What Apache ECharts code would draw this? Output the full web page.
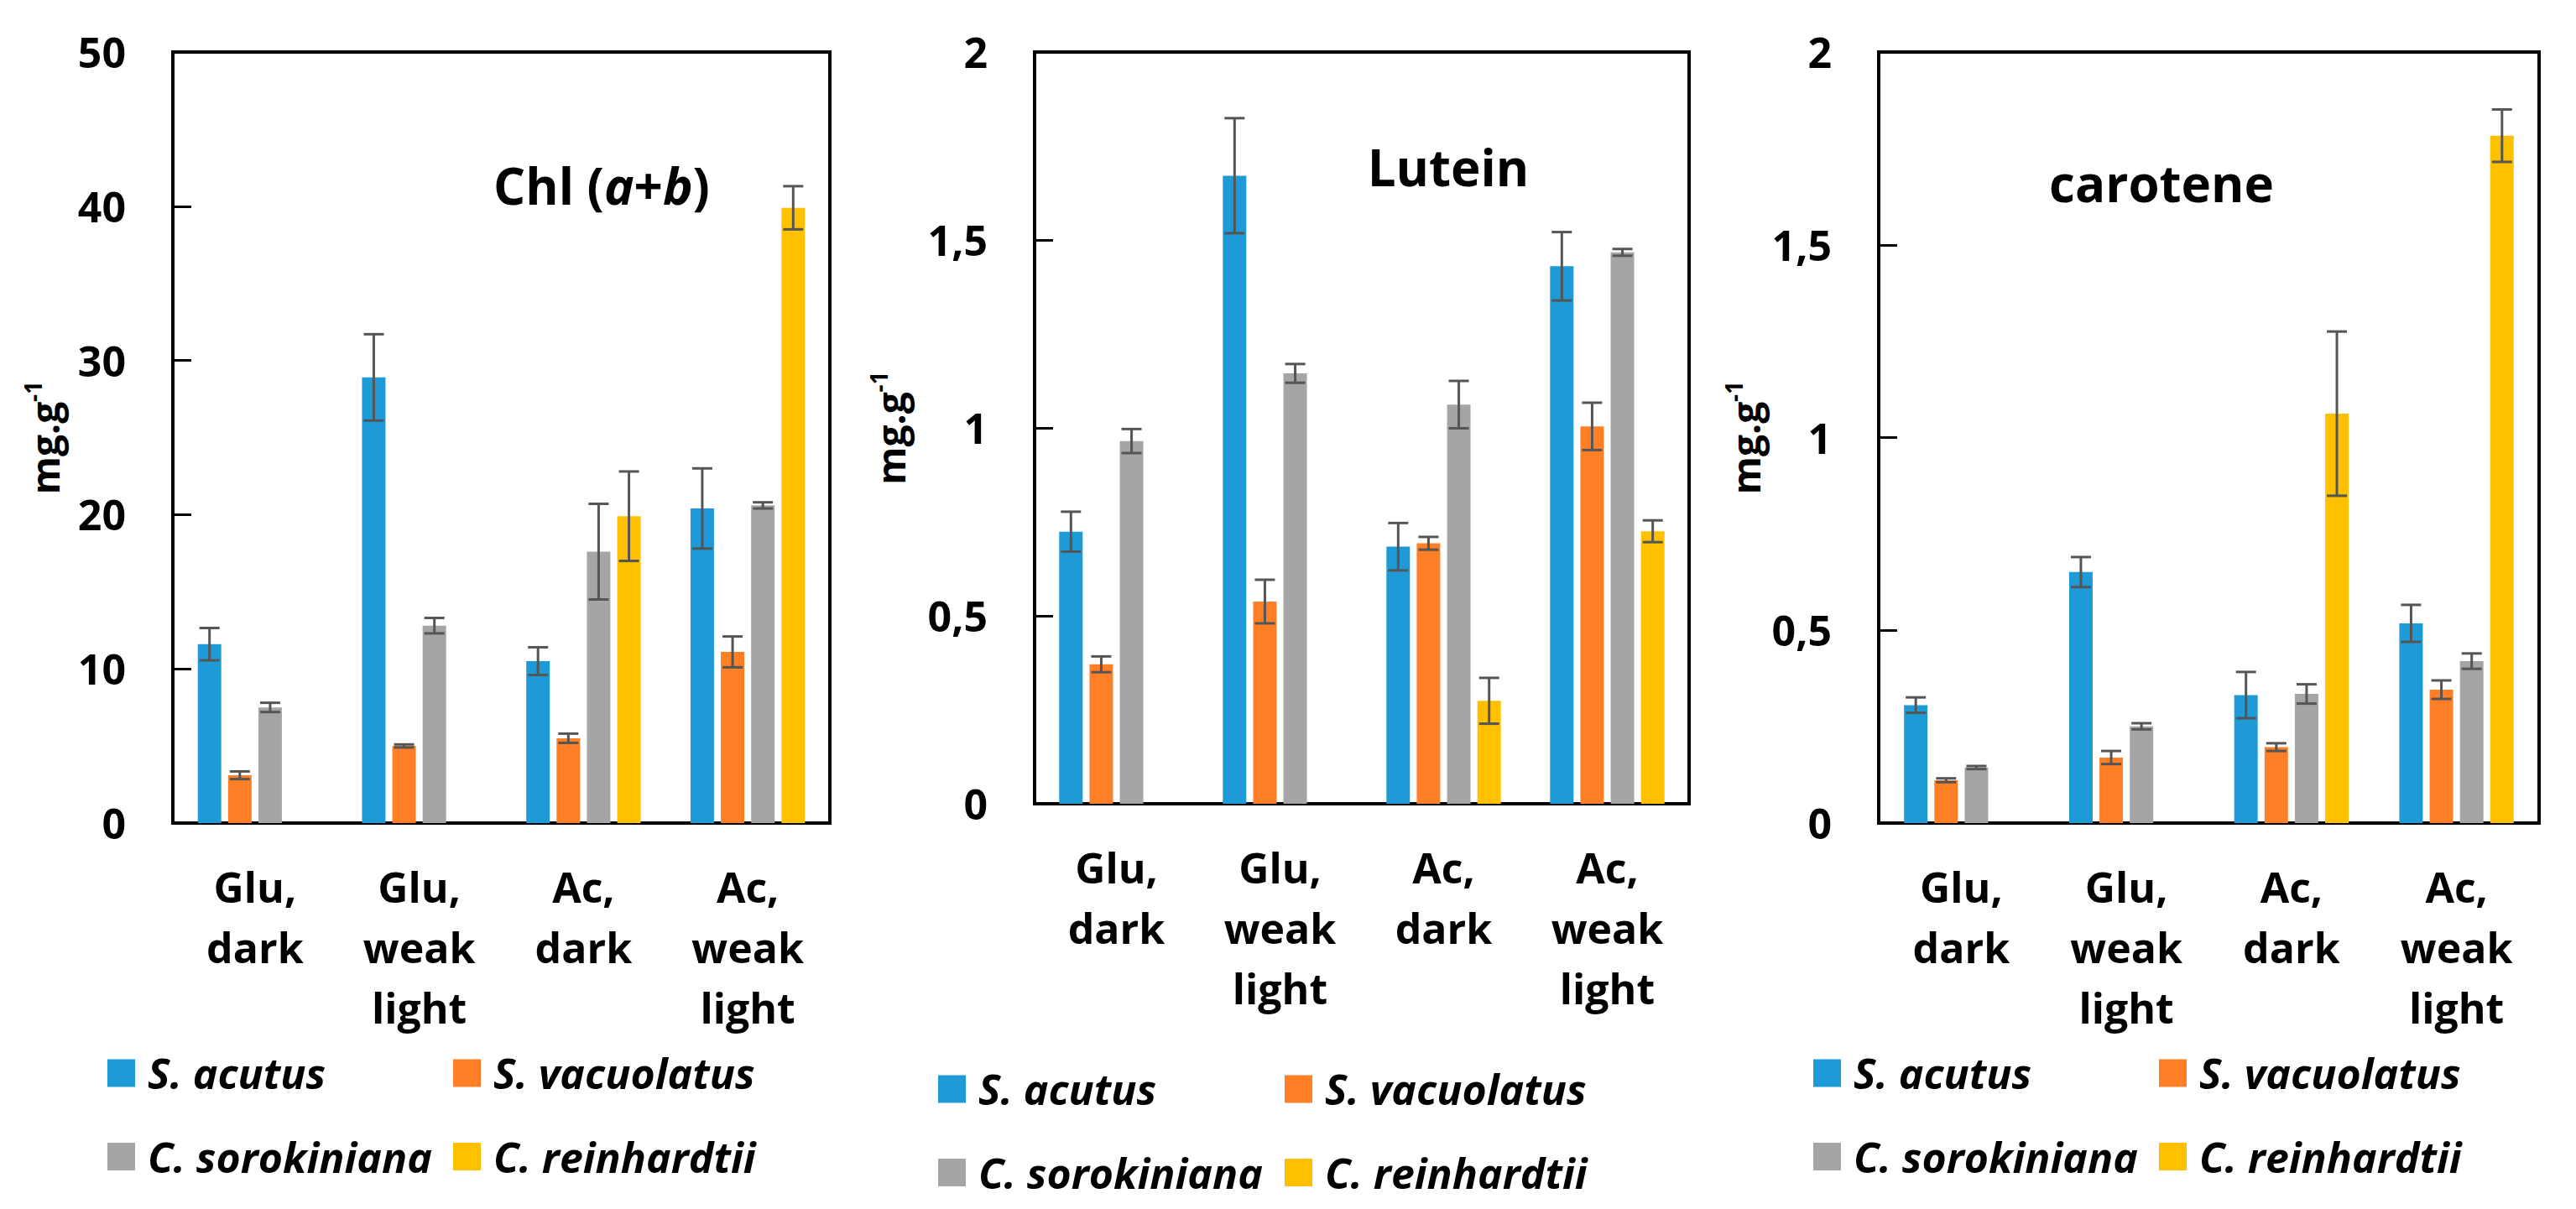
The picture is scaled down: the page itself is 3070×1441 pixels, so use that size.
<!DOCTYPE html>
<html>
<head>
<meta charset="utf-8">
<script src="https://cdn.jsdelivr.net/npm/echarts@6/dist/echarts.min.js"></script>
<style>
html,body{margin:0;padding:0;background:#fff;}
#chart{width:3070px;height:1441px;}
</style>
</head>
<body>
<div id="chart"></div>
<script>
// ---------- data ----------
const categories = ['Glu,\ndark', 'Glu,\nweak\nlight', 'Ac,\ndark', 'Ac,\nweak\nlight'];
const species = ['S. acutus', 'S. vacuolatus', 'C. sorokiniana', 'C. reinhardtii'];
const colors = ['#1E9BD7', '#FF7F27', '#A5A5A5', '#FFC000'];

// Chl (a+b)
const chlAcutus = [11.6, 28.9, 10.5, 20.4];
const chlAcutusErr = [1.05, 2.8, 0.9, 2.6];
const chlVacuolatus = [3.1, 5.0, 5.5, 11.1];
const chlVacuolatusErr = [0.25, 0.1, 0.3, 1.0];
const chlSorokiniana = [7.5, 12.8, 17.6, 20.6];
const chlSorokinianaErr = [0.3, 0.5, 3.1, 0.2];
const chlReinhardtii = [null, null, 19.9, 39.9];
const chlReinhardtiiErr = [null, null, 2.9, 1.4];

// Lutein
const lutAcutus = [0.724, 1.671, 0.684, 1.43];
const lutAcutusErr = [0.053, 0.153, 0.063, 0.091];
const lutVacuolatus = [0.371, 0.538, 0.693, 1.004];
const lutVacuolatusErr = [0.021, 0.058, 0.017, 0.063];
const lutSorokiniana = [0.965, 1.145, 1.062, 1.467];
const lutSorokinianaErr = [0.032, 0.025, 0.063, 0.009];
const lutReinhardtii = [null, null, 0.274, 0.725];
const lutReinhardtiiErr = [null, null, 0.061, 0.029];

// carotene
const carAcutus = [0.306, 0.651, 0.332, 0.518];
const carAcutusErr = [0.02, 0.039, 0.06, 0.048];
const carVacuolatus = [0.111, 0.17, 0.197, 0.346];
const carVacuolatusErr = [0.005, 0.017, 0.01, 0.024];
const carSorokiniana = [0.144, 0.251, 0.335, 0.42];
const carSorokinianaErr = [0.004, 0.008, 0.025, 0.02];
const carReinhardtii = [null, null, 1.062, 1.783];
const carReinhardtiiErr = [null, null, 0.213, 0.068];

const chlTicks = [0, 50, 10];   // min, max, interval
const pigTicks = [0, 2, 0.5];

// ---------- layout / style ----------
const FONT = 'Open Sans';
const BAR_W = 28;
const BAR_GAP = '29%';

const panels = [
  { vals: [chlAcutus, chlVacuolatus, chlSorokiniana, chlReinhardtii],
    errs: [chlAcutusErr, chlVacuolatusErr, chlSorokinianaErr, chlReinhardtiiErr],
    ticks: chlTicks, grid: { left: 206, right: 2081, top: 62, bottom: 460 }, nameGap: 125,
    legend: { l1: 128, l2: 540, top: 1254 } },
  { vals: [lutAcutus, lutVacuolatus, lutSorokiniana, lutReinhardtii],
    errs: [lutAcutusErr, lutVacuolatusErr, lutSorokinianaErr, lutReinhardtiiErr],
    ticks: pigTicks, grid: { left: 1233, right: 1057, top: 62, bottom: 483 }, nameGap: 144,
    legend: { l1: 1118, l2: 1531, top: 1273 } },
  { vals: [carAcutus, carVacuolatus, carSorokiniana, carReinhardtii],
    errs: [carAcutusErr, carVacuolatusErr, carSorokinianaErr, carReinhardtiiErr],
    ticks: pigTicks, grid: { left: 2239, right: 44, top: 62, bottom: 460 }, nameGap: 125,
    legend: { l1: 2161, l2: 2573, top: 1254 } }
];

const grids = [], xAxes = [], yAxes = [], series = [], legends = [];

panels.forEach((p, pi) => {
  grids.push(Object.assign({ show: true, borderColor: '#000', borderWidth: 4, backgroundColor: 'transparent' }, p.grid));
  xAxes.push({
    type: 'category', gridIndex: pi, data: categories,
    axisLine: { show: false }, axisTick: { show: false },
    axisLabel: { interval: 0, margin: 40, color: '#000', fontFamily: FONT, fontWeight: 'bold', fontSize: 50, lineHeight: 72 }
  });
  yAxes.push({
    type: 'value', gridIndex: pi, min: p.ticks[0], max: p.ticks[1], interval: p.ticks[2],
    splitLine: { show: false },
    axisLine: { show: false },
    axisTick: { show: true, inside: true, length: 22, lineStyle: { color: '#000', width: 3 } },
    axisLabel: { margin: 56, color: '#000', fontFamily: FONT, fontWeight: 'bold', fontSize: 50,
      formatter: v => String(v).replace('.', ',') },
    name: 'mg.g{sup|-1}', nameLocation: 'middle', nameGap: p.nameGap,
    nameTextStyle: { color: '#000', fontFamily: FONT, fontWeight: 'bold', fontSize: 46, lineHeight: 56,
      rich: { sup: { color: '#000', fontFamily: FONT, fontWeight: 'bold', fontSize: 28, lineHeight: 28, verticalAlign: 'top' } } }
  });
  p.vals.forEach((arr, si) => {
    series.push({
      type: 'bar', name: species[si], xAxisIndex: pi, yAxisIndex: pi,
      data: arr.map(v => v == null ? '-' : v),
      barWidth: BAR_W, barGap: BAR_GAP,
      itemStyle: { color: colors[si] }, z: 2
    });
  });
  p.vals.forEach((arr, si) => {
    const eData = [];
    arr.forEach((v, ci) => { if (v != null) eData.push([ci, v, p.errs[si][ci]]); });
    series.push({
      type: 'custom', name: 'err' + pi + '_' + si, xAxisIndex: pi, yAxisIndex: pi, z: 5,
      silent: true, data: eData, encode: { x: 0, y: 1 },
      renderItem: (params, api) => {
        const ci = api.value(0), v = api.value(1), e = api.value(2);
        let off;
        try {
          const lay = api.barLayout({ barWidth: BAR_W, barGap: BAR_GAP, count: 4 });
          off = lay[si].offsetCenter;
        } catch (err) { off = undefined; }
        if (off == null || isNaN(off)) off = (si - 1.5) * BAR_W * 1.29;
        const t = api.coord([ci, v + e]);
        const b = api.coord([ci, v - e]);
        const x = t[0] + off;
        const half = 12;
        const st = { stroke: '#555555', lineWidth: 3 };
        return { type: 'group', children: [
          { type: 'line', shape: { x1: x, y1: t[1], x2: x, y2: b[1] }, style: st },
          { type: 'line', shape: { x1: x - half, y1: t[1], x2: x + half, y2: t[1] }, style: st },
          { type: 'line', shape: { x1: x - half, y1: b[1], x2: x + half, y2: b[1] }, style: st }
        ] };
      }
    });
  });
  const lt = { fontFamily: FONT, fontSize: 50, fontWeight: 'bold', fontStyle: 'italic', color: '#000', lineHeight: 50, padding: [0, 0, 0, 10] };
  legends.push({ data: [species[0], species[2]], orient: 'vertical', left: p.legend.l1, top: p.legend.top, padding: 0,
    itemWidth: 33, itemHeight: 33, itemGap: 49.5, icon: 'rect', selectedMode: false, textStyle: lt });
  legends.push({ data: [species[1], species[3]], orient: 'vertical', left: p.legend.l2, top: p.legend.top, padding: 0,
    itemWidth: 33, itemHeight: 33, itemGap: 49.5, icon: 'rect', selectedMode: false, textStyle: lt });
});

const titleFont = { fontFamily: FONT, fontWeight: 'bold', fontSize: 60, fill: '#000' };
const graphics = [
  { type: 'text', x: 717, y: 221, style: Object.assign({ text: 'Chl ({i|a}+{i|b})', align: 'center', verticalAlign: 'middle',
      rich: { i: { fontFamily: FONT, fontWeight: 'bold', fontStyle: 'italic', fontSize: 60, fill: '#000' } } }, titleFont) },
  { type: 'text', x: 1726, y: 199, style: Object.assign({ text: 'Lutein', align: 'center', verticalAlign: 'middle' }, titleFont) },
  { type: 'text', x: 2576, y: 218, style: Object.assign({ text: 'carotene', align: 'center', verticalAlign: 'middle' }, titleFont) }
];

const chart = echarts.init(document.getElementById('chart'), null, { renderer: 'svg' });
chart.setOption({
  animation: false,
  backgroundColor: '#fff',
  grid: grids, xAxis: xAxes, yAxis: yAxes, series: series, legend: legends, graphic: graphics
});
</script>
</body>
</html>
